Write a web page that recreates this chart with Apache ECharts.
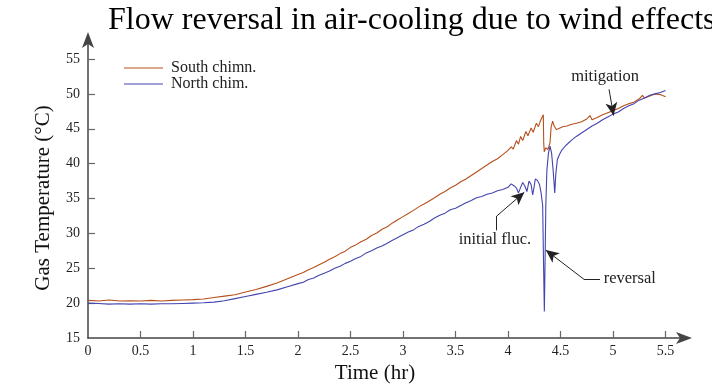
<!DOCTYPE html>
<html>
<head>
<meta charset="utf-8">
<script src="https://cdn.jsdelivr.net/npm/echarts@6/dist/echarts.min.js"></script>
<style>html,body{margin:0;padding:0;background:#fff;}#c{width:712px;height:389px;}</style>
</head>
<body>
<div id="c"></div>
<script>
// ---- data ----
const titleText = 'Flow reversal in air-cooling due to wind effects';
const seriesNames = ['South chimn.', 'North chim.'];
const xTicks = [0, 0.5, 1, 1.5, 2, 2.5, 3, 3.5, 4, 4.5, 5, 5.5];
const yTicks = [15, 20, 25, 30, 35, 40, 45, 50, 55];

const southTime = [0,0.1,0.2,0.3,0.4,0.5,0.6,0.7,0.8,0.9,1.0,1.1,1.2,1.3,1.4,1.5,1.6,1.7,1.8,1.9,2.0,
  2.05,2.1,2.15,2.2,2.25,2.3,2.35,2.4,2.45,2.5,2.55,2.6,2.65,2.7,2.75,2.8,2.85,2.9,2.95,3.0,
  3.05,3.1,3.15,3.2,3.25,3.3,3.35,3.4,3.45,3.5,3.55,3.6,3.65,3.7,3.75,3.8,3.85,3.9,3.95,4.0,
  4.03,4.05,4.08,4.1,4.12,4.14,4.17,4.19,4.22,4.24,4.27,4.29,4.31,4.336,4.34,4.345,4.36,4.38,4.40,4.41,4.425,4.44,4.46,4.48,
  4.52,4.56,4.6,4.65,4.7,4.75,4.78,4.8,4.85,4.9,4.95,5.0,5.05,5.1,5.15,5.2,5.25,5.28,5.3,5.35,5.4,5.45,5.5];
const southTemp = [20.4,20.3,20.45,20.3,20.35,20.3,20.4,20.3,20.4,20.45,20.5,20.6,20.8,21.0,21.2,21.6,21.95,22.4,22.9,23.5,24.1,
  24.4,24.8,25.1,25.5,25.85,26.3,26.65,27.1,27.45,28.0,28.35,28.8,29.15,29.7,30.05,30.6,30.95,31.5,31.95,32.4,
  32.85,33.3,33.8,34.2,34.65,35.1,35.6,36.0,36.5,36.9,37.4,37.8,38.3,38.8,39.3,39.8,40.3,40.7,41.3,41.9,
  42.4,42.1,43.3,42.8,43.9,43.3,44.6,44.0,45.1,44.5,45.8,45.3,46.2,47.0,43.0,41.7,42.3,42.0,43.0,45.2,46.1,45.4,44.9,45.0,
  45.3,45.4,45.6,45.8,46.0,46.4,46.9,46.3,46.6,47.0,47.3,47.6,47.9,48.3,48.6,48.8,49.3,49.8,49.4,49.7,50.0,49.9,49.6];

const northTime = [0,0.1,0.2,0.3,0.4,0.5,0.6,0.7,0.8,0.9,1.0,1.1,1.2,1.3,1.4,1.5,1.6,1.7,1.8,1.9,2.0,
  2.05,2.1,2.15,2.2,2.25,2.3,2.35,2.4,2.45,2.5,2.55,2.6,2.65,2.7,2.75,2.8,2.85,2.9,2.95,3.0,
  3.05,3.1,3.15,3.2,3.25,3.3,3.35,3.4,3.45,3.5,3.55,3.6,3.65,3.7,3.75,3.8,3.85,3.9,3.95,4.0,
  4.03,4.06,4.08,4.1,4.12,4.14,4.16,4.18,4.20,4.22,4.235,4.25,4.26,4.28,4.3,4.315,4.33,4.338,4.346,4.352,4.36,4.37,4.385,4.40,4.415,4.43,4.445,4.455,4.47,4.49,
  4.51,4.55,4.6,4.65,4.7,4.75,4.8,4.85,4.9,4.95,5.0,5.05,5.1,5.15,5.2,5.25,5.3,5.35,5.4,5.45,5.5];
const northTemp = [20.0,19.95,19.85,19.9,19.85,19.9,19.85,19.9,19.9,19.95,20.0,20.05,20.15,20.35,20.65,20.95,21.25,21.55,21.9,22.35,22.8,
  23.0,23.4,23.6,24.0,24.3,24.6,25.0,25.3,25.7,26.0,26.4,26.7,27.2,27.5,27.9,28.2,28.6,29.0,29.4,29.8,
  30.2,30.5,31.0,31.3,31.7,32.2,32.6,32.9,33.4,33.6,34.0,34.4,34.7,35.1,35.3,35.6,35.8,36.1,36.3,36.6,
  37.1,36.8,36.5,35.8,36.6,37.3,36.8,36.0,37.5,37.0,35.5,36.8,37.8,37.6,37.0,35.8,34.0,26.0,18.8,25.0,34.0,39.0,41.5,42.5,41.5,39.0,35.8,38.5,40.6,41.3,
  41.9,42.6,43.3,43.9,44.4,44.9,45.4,45.8,46.3,46.7,47.1,47.4,47.9,48.3,48.6,49.1,49.4,49.8,50.0,50.2,50.5];

// annotations: [text, x, y] and leader segments in data units
const notes = [
  ['mitigation', 4.924, 52.5],
  ['initial fluc.', 3.875, 29.15],
  ['reversal', 5.16, 23.45]
];
const leaderPlain = [
  [[3.892, 30.44], [3.892, 32.48]],
  [[4.876, 23.41], [4.724, 23.41]]
];
const leaderArrow = [
  [[4.962, 50.65], [5.005, 46.9]],
  [[3.892, 32.48], [4.155, 35.9]],
  [[4.724, 23.41], [4.36, 27.6]]
];

const southColor = '#b5501c';
const northColor = '#4444b0';
const serif = '"Liberation Serif", "DejaVu Serif", serif';

function pairs(xs, ys) { return xs.map((x, i) => [x, ys[i]]); }

const chart = echarts.init(document.getElementById('c'), null, {renderer: 'canvas'});
chart.setOption({
  animation: false,
  backgroundColor: '#fff',
  title: {
    text: titleText, left: 103, top: 0,
    textStyle: {fontFamily: serif, fontSize: 32, fontWeight: 'normal', color: '#000'}
  },
  legend: {
    left: 124, top: 60, orient: 'vertical', itemWidth: 39, itemHeight: 14, itemGap: 0, padding: 0,
    icon: 'path://M0,0 L39,0 L39,1 L0,1 Z',
    textStyle: {fontFamily: serif, fontSize: 16, lineHeight: 16, color: '#222', padding: [0, 0, 0, 3]},
    data: seriesNames
  },
  grid: {left: 88, right: 24, top: 36, bottom: 47.3, containLabel: false},
  xAxis: {
    type: 'value', min: 0, max: 5.714,
    name: 'Time (hr)', nameLocation: 'middle', nameGap: 25,
    nameTextStyle: {fontFamily: serif, fontSize: 21, color: '#111', padding: [0, 26, 0, 0]},
    axisLine: {show: true, symbol: ['none', 'arrow'], symbolSize: [9, 16], symbolOffset: [0, 4], lineStyle: {color: '#444', width: 1.5}},
    axisTick: {show: true, inside: true, length: 7, customValues: xTicks.slice(1), lineStyle: {color: '#666', width: 1.2}},
    axisLabel: {customValues: xTicks, fontFamily: serif, fontSize: 14, color: '#222', margin: 6},
    splitLine: {show: false}
  },
  yAxis: {
    type: 'value', min: 15, max: 58.3,
    name: 'Gas Temperature (°C)', nameLocation: 'middle', nameGap: 34, nameRotate: 90,
    nameTextStyle: {fontFamily: serif, fontSize: 21, color: '#111', padding: [0, 22, 0, 0]},
    axisLine: {show: true, symbol: ['none', 'arrow'], symbolSize: [9, 16], symbolOffset: [0, 4], lineStyle: {color: '#444', width: 1.5}},
    axisTick: {show: true, inside: true, length: 7, customValues: yTicks.slice(1), lineStyle: {color: '#666', width: 1.2}},
    axisLabel: {customValues: yTicks, fontFamily: serif, fontSize: 14, color: '#222', margin: 8},
    splitLine: {show: false}
  },
  series: [
    {
      name: seriesNames[0], type: 'line', data: pairs(southTime, southTemp),
      showSymbol: false, symbol: 'none', color: southColor,
      lineStyle: {color: southColor, width: 1.1}
    },
    {
      name: seriesNames[1], type: 'line', data: pairs(northTime, northTemp),
      showSymbol: false, symbol: 'none', color: northColor,
      lineStyle: {color: northColor, width: 1.1},
      markLine: {
        silent: true, animation: false, symbol: ['none', 'arrow'], symbolSize: [9, 13],
        label: {show: false}, emphasis: {disabled: true},
        lineStyle: {color: '#222', width: 1, type: 'solid'},
        data: leaderPlain.map(s => [{coord: s[0], symbol: 'none'}, {coord: s[1], symbol: 'none'}])
          .concat(leaderArrow.map(s => [{coord: s[0], symbol: 'none'}, {coord: s[1], symbol: 'arrow'}]))
      },
      markPoint: {
        silent: true, animation: false, symbol: 'rect', symbolSize: 1,
        itemStyle: {color: 'rgba(0,0,0,0)'},
        label: {show: true, position: 'inside', fontFamily: serif, fontSize: 16.5, color: '#222'},
        data: notes.map(n => ({coord: [n[1], n[2]], value: n[0], label: {formatter: n[0]}}))
      }
    }
  ]
});
</script>
</body>
</html>
